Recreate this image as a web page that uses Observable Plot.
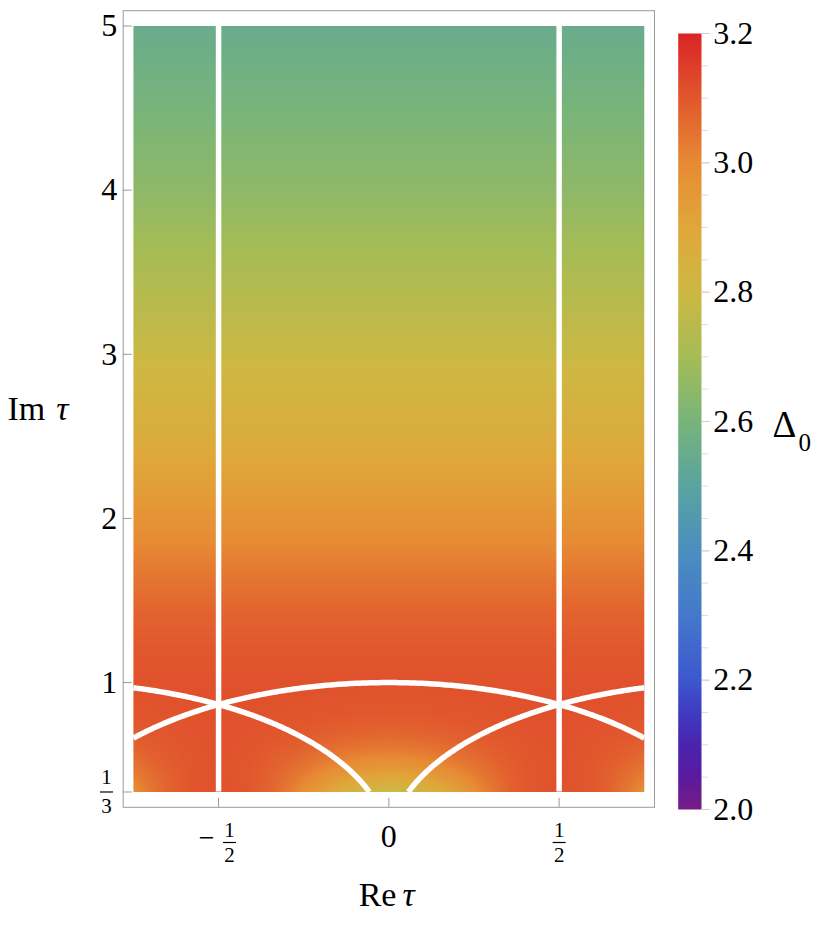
<!DOCTYPE html>
<html>
<head>
<meta charset="utf-8">
<script src="https://cdn.jsdelivr.net/npm/d3@7"></script>
<script src="https://cdn.jsdelivr.net/npm/@observablehq/plot@0.6"></script>
<style>
  html, body { margin: 0; padding: 0; background: #fff; }
  #wrap { position: relative; width: 830px; height: 926px; overflow: hidden; }
  #wrap svg { position: absolute; top: 0; }
</style>
</head>
<body>
<div id="wrap"></div>
<script>
// ---- data ----
// Δ0 profile along Im τ inside the fundamental domain (read from colours)
const imTauSamples  = [0.866, 1.0, 1.2, 1.4, 1.7, 2.0, 2.5, 3.0, 3.5, 4.0, 4.5, 5.0];
const delta0Samples = [3.115, 3.11, 3.10, 3.08, 3.03, 2.97, 2.87, 2.79, 2.72, 2.65, 2.60, 2.55];

// colour bar (value -> colour)
const colorStops = [2.0, 2.05, 2.1, 2.15, 2.2, 2.3, 2.4, 2.5, 2.6, 2.7, 2.8, 2.9, 3.0, 3.1, 3.2];
const colorRange = ["#781c86", "#5a1a9e", "#4a24ae", "#3f3bc2", "#3d58cd", "#4478cb", "#4b8ebf",
                    "#5aa3a0", "#78b47a", "#a5bc56", "#cdb843", "#e0a73a", "#e78b34", "#e1572d", "#da2427"];

// plotted region and fundamental-domain boundaries
const reTauRange = [-0.75, 0.75];
const imTauRange = [1 / 3, 5];
const boundaryRe = [-0.5, 0.5];
const arcCenters = [-1, 0, 1];
const arcRadius = 1;

// ticks
const yTickValues = [1 / 3, 1, 2, 3, 4, 5];
const yIntTicks = [1, 2, 3, 4, 5];
const yFracTicks = [{value: 1 / 3, num: "1", den: "3"}];
const xTickValues = [-0.5, 0, 0.5];
const xIntTicks = [{value: 0, label: "0"}];
const xFracTicks = [{value: -0.5, sign: "−", num: "1", den: "2"}, {value: 0.5, sign: "", num: "1", den: "2"}];
const legendTicks = [2.0, 2.2, 2.4, 2.6, 2.8, 3.0, 3.2];
const legendMinor = d3.range(0, 25).map(i => 2.0 + i * 0.05);

// ---- helpers ----
const profile = d3.scaleLinear().domain(imTauSamples).range(delta0Samples).clamp(true);
function reducedIm(x, y) {           // map τ into the modular fundamental domain, return Im
  for (let i = 0; i < 60; i++) {
    x -= Math.round(x);
    const r2 = x * x + y * y;
    if (r2 >= 1) break;
    x = -x / r2; y = y / r2;
  }
  return y;
}
const boundaryLines = boundaryRe.map(x => ({x, y1: imTauRange[0], y2: imTauRange[1]}));
const arcPoints = arcCenters.flatMap(c => {
  const sMin = Math.asin(imTauRange[0] / arcRadius);
  const cl = v => Math.max(-1, Math.min(1, v));
  const t0 = Math.max(sMin, Math.acos(cl((reTauRange[1] - c) / arcRadius)));
  const t1 = Math.min(Math.PI - sMin, Math.acos(cl((reTauRange[0] - c) / arcRadius)));
  const N = 240, pts = [];
  for (let i = 0; i <= N; i++) {
    const t = t0 + (t1 - t0) * i / N;
    pts.push({c, x: c + arcRadius * Math.cos(t), y: arcRadius * Math.sin(t)});
  }
  return pts;
});
const barSymbol = w => ({draw(ctx) { ctx.moveTo(-w / 2, 0); ctx.lineTo(w / 2, 0); }});
const colorSpec = {type: "linear", domain: colorStops, range: colorRange, clamp: true};
const FONT = "Liberation Serif";
const T = (data, o) => Plot.text(data, {fontFamily: FONT, fill: "black", ...o});

const signed = xFracTicks.filter(d => d.sign);
const unsigned = xFracTicks.filter(d => !d.sign);

// ---- main chart ----
const main = Plot.plot({
  width: 830, height: 926,
  marginLeft: 122.7, marginRight: 176, marginTop: 10.2, marginBottom: 119.2,
  x: {domain: [-0.78, 0.78]},
  y: {domain: [1 / 3 - 0.0933, 5 + 0.0933]},
  color: colorSpec,
  style: {fontFamily: FONT, fontSize: "32px", color: "black", background: "white", overflow: "visible"},
  marks: [
    Plot.raster({x1: reTauRange[0], x2: reTauRange[1], y1: imTauRange[0], y2: imTauRange[1],
                 fill: (x, y) => profile(reducedIm(x, y)), pixelSize: 1}),
    Plot.ruleX(boundaryLines, {x: "x", y1: "y1", y2: "y2", stroke: "white", strokeWidth: 5.5}),
    Plot.line(arcPoints, {x: "x", y: "y", z: "c", stroke: "white", strokeWidth: 5.5, strokeLinecap: "butt"}),
    Plot.frame({stroke: "#9a9a9a"}),
    Plot.axisY(yTickValues, {anchor: "left", tickSize: 9, dx: 9, stroke: "#9a9a9a", fill: "none", label: null}),
    Plot.axisX(xTickValues, {anchor: "bottom", tickSize: 9, dy: -9, stroke: "#9a9a9a", fill: "none", label: null}),
    // y tick labels
    T(yIntTicks, {y: d => d, text: d => String(d), frameAnchor: "left", textAnchor: "end", dx: -6, fontSize: 32}),
    T(yFracTicks, {y: "value", text: "num", frameAnchor: "left", textAnchor: "middle", lineAnchor: "bottom", dx: -16.7, dy: -8, fontSize: 21}),
    T(yFracTicks, {y: "value", text: "den", frameAnchor: "left", textAnchor: "middle", lineAnchor: "top", dx: -16.7, dy: 6, fontSize: 21}),
    Plot.dot(yFracTicks, {y: "value", frameAnchor: "left", dx: -16.7, symbol: barSymbol(13), stroke: "black", strokeWidth: 1.2}),
    // x tick labels
    T(xIntTicks, {x: "value", text: "label", frameAnchor: "bottom", textAnchor: "middle", lineAnchor: "top", dy: 16.5, fontSize: 32}),
    T(signed, {x: "value", text: "sign", frameAnchor: "bottom", textAnchor: "middle", lineAnchor: "bottom", dx: -12, dy: 40, fontSize: 28}),
    T(signed, {x: "value", text: "num", frameAnchor: "bottom", textAnchor: "middle", lineAnchor: "bottom", dx: 11, dy: 29.2, fontSize: 21}),
    T(signed, {x: "value", text: "den", frameAnchor: "bottom", textAnchor: "middle", lineAnchor: "top", dx: 11, dy: 39.5, fontSize: 21}),
    Plot.dot(signed, {x: "value", frameAnchor: "bottom", dx: 11, dy: 35.2, symbol: barSymbol(13), stroke: "black", strokeWidth: 1.2}),
    T(unsigned, {x: "value", text: "num", frameAnchor: "bottom", textAnchor: "middle", lineAnchor: "bottom", dy: 29.2, fontSize: 21}),
    T(unsigned, {x: "value", text: "den", frameAnchor: "bottom", textAnchor: "middle", lineAnchor: "top", dy: 39.5, fontSize: 21}),
    Plot.dot(unsigned, {x: "value", frameAnchor: "bottom", dy: 35.2, symbol: barSymbol(13), stroke: "black", strokeWidth: 1.2}),
    // axis labels
    T(["Im"], {text: d => d, frameAnchor: "left", textAnchor: "start", dx: -115.7, fontSize: 34}),
    T(["τ"], {text: d => d, frameAnchor: "left", textAnchor: "start", dx: -67, fontSize: 34, fontStyle: "italic"}),
    T(["Re"], {text: d => d, frameAnchor: "bottom", textAnchor: "end", lineAnchor: "bottom", dx: 7.6, dy: 99, fontSize: 34}),
    T(["τ"], {text: d => d, frameAnchor: "bottom", textAnchor: "start", lineAnchor: "bottom", dx: 13.6, dy: 99, fontSize: 34, fontStyle: "italic"})
  ]
});
main.style.left = "0px";

// ---- colour bar ----
const legend = Plot.plot({
  width: 170, height: 926,
  marginLeft: 17.7, marginRight: 129, marginTop: 33, marginBottom: 117,
  x: {domain: [0, 1], axis: null},
  y: {domain: [2.0, 3.2]},
  color: colorSpec,
  style: {fontFamily: FONT, fontSize: "32px", color: "black", background: "transparent", overflow: "visible"},
  marks: [
    Plot.raster({x1: 0, x2: 1, y1: 2.0, y2: 3.2, fill: (x, y) => y, pixelSize: 1}),
    Plot.axisY(legendMinor, {anchor: "right", tickSize: 6, stroke: "#dcdcdc", fill: "none", label: null}),
    Plot.axisY(legendTicks, {anchor: "right", tickSize: 8, stroke: "#cfcfcf", fill: "none", label: null}),
    T(legendTicks, {y: d => d, text: d => d.toFixed(1), frameAnchor: "right", textAnchor: "start", dx: 11.7, fontSize: 32}),
    T(["Δ"], {text: d => d, frameAnchor: "right", textAnchor: "start", lineAnchor: "bottom", dx: 71, dy: 15, fontSize: 37}),
    T(["0"], {text: d => d, frameAnchor: "right", textAnchor: "start", lineAnchor: "bottom", dx: 97, dy: 29, fontSize: 25})
  ]
});
legend.style.left = "660px";

const wrap = document.getElementById("wrap");
wrap.appendChild(main);
wrap.appendChild(legend);
</script>
</body>
</html>
